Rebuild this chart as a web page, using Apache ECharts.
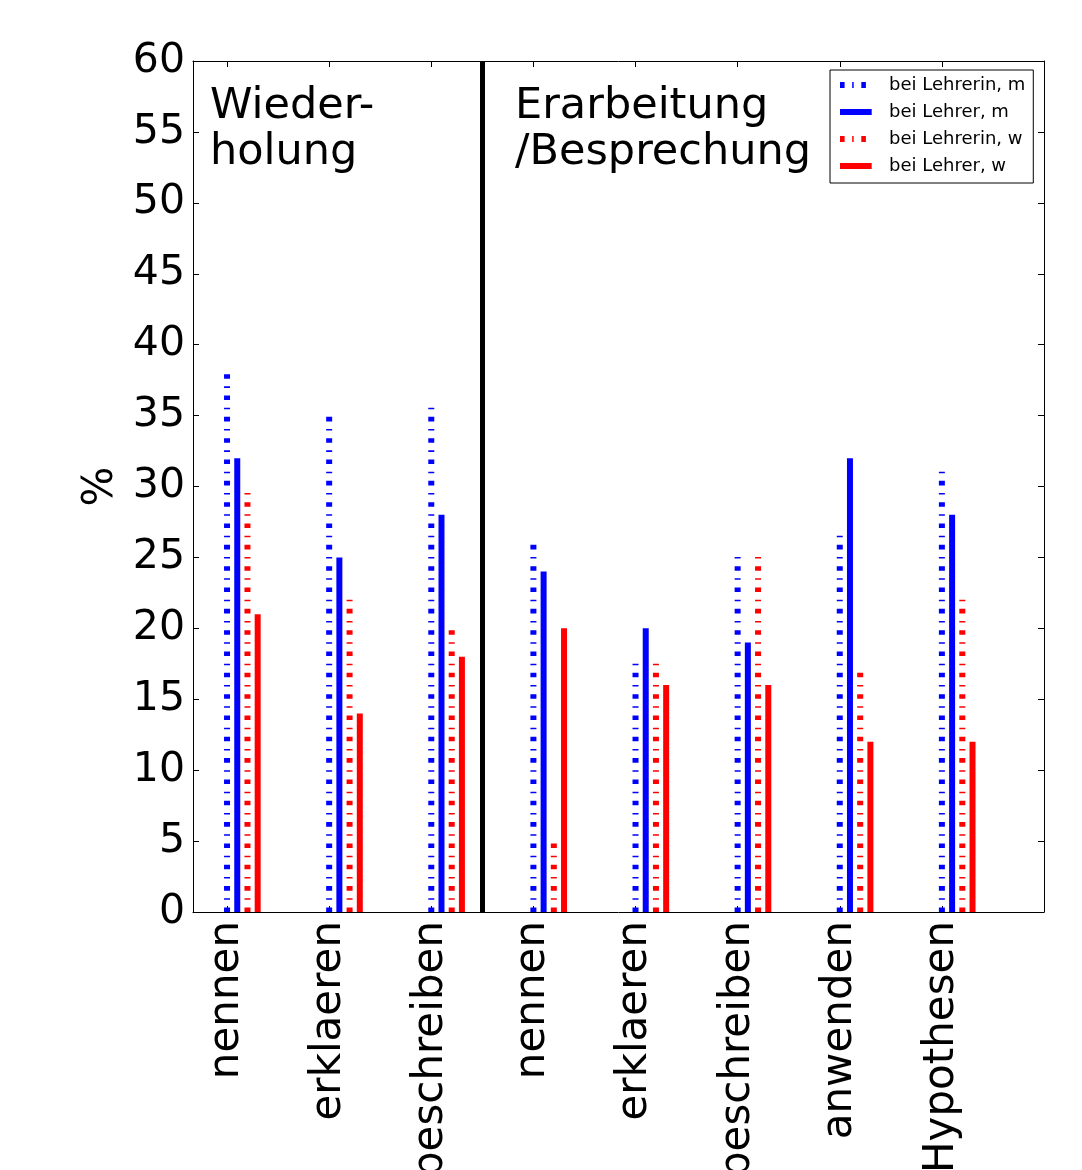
<!DOCTYPE html>
<html>
<head>
<meta charset="utf-8">
<script src="https://cdn.jsdelivr.net/npm/echarts@6/dist/echarts.min.js"></script>
<style>html,body{margin:0;padding:0;background:#fff;}#c{width:1082px;height:1170px;}</style>
</head>
<body>
<div id="c"></div>
<script>
const categories = ['nennen', 'erklaeren', 'beschreiben', 'nennen', 'erklaeren', 'beschreiben', 'anwenden', 'Hypothesen'];
const seriesNames = ['bei Lehrerin, m', 'bei Lehrer, m', 'bei Lehrerin, w', 'bei Lehrer, w'];
const lehrerinM = [38, 35, 35.7, 26, 17.7, 25.2, 26.8, 31.2];
const lehrerM   = [32, 25, 28, 24, 20, 19, 32, 28];
const lehrerinW = [29.8, 22.2, 20.1, 5, 17.7, 25.2, 17, 22.2];
const lehrerW   = [21, 14, 18, 20, 16, 16, 12, 12];
const phaseLabels = ['Wieder-\nholung', 'Erarbeitung\n/Besprechung'];
const dividerAt = [2.5];
const yMin = 0, yMax = 60, yStep = 5;

const FONT = 'DejaVu Sans';
const colors = ['#0000ff', '#0000ff', '#ff0000', '#ff0000'];
const dashed = [true, false, true, false];
const allValues = [lehrerinM, lehrerM, lehrerinW, lehrerW];
const tickPositions = categories.map((_, i) => i);
const DASH = [4.57, 7.62, 1.52, 7.62];

function makeRender(color, isDashed) {
  return function (params, api) {
    const x = api.value(0), v = api.value(1);
    const p0 = api.coord([x, 0]);
    const p1 = api.coord([x, v]);
    return {
      type: 'line',
      shape: { x1: p0[0], y1: p0[1], x2: p1[0], y2: p1[1] },
      style: { stroke: color, lineWidth: 6, lineDash: isDashed ? DASH : null, lineCap: 'butt' }
    };
  };
}

const series = allValues.map((vals, s) => ({
  name: seriesNames[s],
  type: 'custom',
  coordinateSystem: 'cartesian2d',
  xAxisIndex: 0, yAxisIndex: 0,
  renderItem: makeRender(colors[s], dashed[s]),
  data: vals.map((v, i) => [i + s * 0.1, v]),
  itemStyle: { color: colors[s] },
  clip: false,
  silent: true
}));

series.push({
  type: 'line',
  data: [],
  xAxisIndex: 0, yAxisIndex: 0,
  silent: true,
  markLine: {
    silent: true,
    symbol: ['none', 'none'],
    label: { show: false },
    lineStyle: { color: '#000', width: 5, type: 'solid' },
    data: dividerAt.map(x => ({ xAxis: x }))
  }
});

const iconDash = 'path://M0,0h4.6v6h-4.6z M12.2,0h1.5v6h-1.5z M21.3,0h4.6v6h-4.6z M44,0L44,6';
const iconSolid = 'path://M0,0h31.7v6h-31.7z M44,0L44,6';

const axisLineStyle = { show: true, onZero: false, lineStyle: { color: '#000', width: 1 } };
const tickStyle = { show: true, inside: true, length: 6, lineStyle: { color: '#000', width: 1 } };

const option = {
  animation: false,
  backgroundColor: '#fff',
  grid: { left: 193, top: 61, width: 851, height: 851, containLabel: false, outerBoundsMode: 'none' },
  xAxis: [
    {
      type: 'value', min: -1 / 3, max: 8, position: 'bottom',
      axisLine: axisLineStyle,
      axisTick: Object.assign({}, tickStyle, { customValues: tickPositions }),
      axisLabel: {
        customValues: tickPositions,
        formatter: v => categories[Math.round(v)] || '',
        rotate: 90, fontSize: 42, fontFamily: FONT, color: '#000', margin: 9
      },
      splitLine: { show: false }
    },
    {
      type: 'value', min: -1 / 3, max: 8, position: 'top',
      axisLine: axisLineStyle,
      axisTick: Object.assign({}, tickStyle, { customValues: tickPositions }),
      axisLabel: { show: false },
      splitLine: { show: false }
    }
  ],
  yAxis: [
    {
      type: 'value', min: yMin, max: yMax, interval: yStep, position: 'left',
      axisLine: axisLineStyle,
      axisTick: tickStyle,
      axisLabel: { fontSize: 41, fontFamily: FONT, color: '#000', margin: 8 },
      splitLine: { show: false },
      name: '%', nameLocation: 'middle', nameRotate: 90, nameGap: 70,
      nameTextStyle: { fontSize: 42, fontFamily: FONT, color: '#000' }
    },
    {
      type: 'value', min: yMin, max: yMax, interval: yStep, position: 'right',
      axisLine: axisLineStyle,
      axisTick: tickStyle,
      axisLabel: { show: false },
      splitLine: { show: false }
    }
  ],
  legend: {
    orient: 'vertical',
    left: 830, top: 70,
    padding: [5, 8, 7, 10],
    itemWidth: 44, itemHeight: 6, itemGap: 7,
    borderColor: '#000', borderWidth: 1, borderRadius: 0,
    backgroundColor: '#fff',
    selectedMode: false,
    textStyle: { fontSize: 18, fontFamily: FONT, color: '#000', lineHeight: 20 },
    data: seriesNames.map((n, s) => ({
      name: n,
      icon: dashed[s] ? iconDash : iconSolid,
      itemStyle: { color: colors[s], borderWidth: 0 }
    }))
  },
  graphic: [
    { type: 'text', left: 210, top: 84, silent: true,
      style: { text: phaseLabels[0], font: '43px "DejaVu Sans"', fill: '#000', lineHeight: 46 } },
    { type: 'text', left: 515, top: 84, silent: true,
      style: { text: phaseLabels[1], font: '43px "DejaVu Sans"', fill: '#000', lineHeight: 46 } }
  ],
  series: series
};

const chart = echarts.init(document.getElementById('c'), null, { renderer: 'canvas' });
chart.setOption(option);
</script>
</body>
</html>
